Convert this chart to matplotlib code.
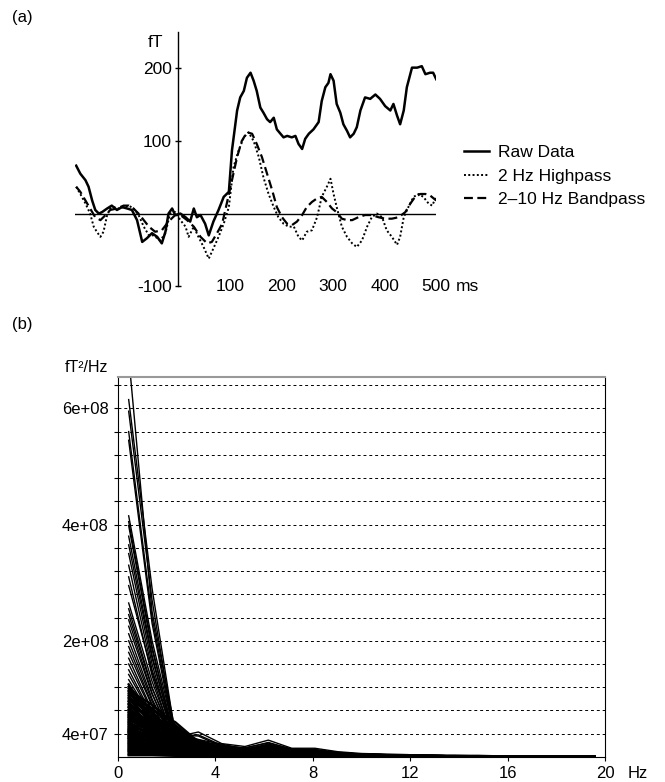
import matplotlib.pyplot as plt
import numpy as np

plt.rcParams['font.family'] = ['Liberation Sans', 'DejaVu Sans']
plt.rcParams['font.size'] = 12.5
plt.rcParams['axes.unicode_minus'] = False

# ---- panel (a): averaged field, fT over ms ----
raw_t = [-198, -190, -180, -174, -167, -161, -154, -148, -138, -129, -119, -109, -99, -90,
         -80, -70, -61, -51, -41, -32, -25, -19, -12, -6, 4, 14, 23, 30, 36, 43, 52, 59,
         68, 78, 88, 98, 104, 114, 120, 127, 133, 140, 146, 152, 159, 165, 172, 178, 185,
         191, 198, 204, 211, 220, 227, 233, 240, 246, 253, 262, 272, 278, 285, 291, 295,
         301, 307, 314, 320, 327, 333, 340, 346, 353, 362, 372, 382, 391, 401, 411, 417,
         424, 430, 437, 443, 453, 463, 472, 479, 488, 494, 500]
raw_v = [66, 55, 46, 37, 18, 5, 0, 2, 7, 11, 5, 9, 7, 5,
         -9, -39, -34, -27, -32, -41, -25, 0, 7, -2, 0, -5, -11, 7, -5, -2, -14, -30,
         -11, 5, 23, 30, 87, 142, 160, 169, 187, 194, 183, 169, 146, 139, 130, 126, 132,
         116, 110, 105, 107, 105, 107, 96, 89, 103, 110, 116, 126, 155, 174, 180, 192,
         183, 151, 139, 123, 114, 105, 110, 119, 142, 160, 158, 164, 158, 148, 142, 151,
         135, 123, 142, 174, 201, 201, 203, 192, 194, 194, 185]

hp_t = [-198, -190, -180, -171, -164, -158, -151, -145, -138, -132, -125, -116, -106, -96,
        -87, -77, -67, -57, -48, -35, -25, -16, -6, 4, 14, 20, 30, 39, 49, 59, 68, 78, 88,
        98, 107, 117, 127, 136, 146, 156, 165, 175, 185, 194, 204, 214, 224, 233, 240, 249,
        259, 269, 278, 288, 295, 301, 307, 317, 327, 337, 346, 356, 366, 375, 385, 395,
        404, 414, 424, 430, 437, 446, 456, 466, 475, 485, 492, 500]
hp_v = [37, 27, 14, 0, -18, -25, -32, -25, -2, 7, 9, 7, 9, 11,
        7, -2, -18, -30, -30, -37, -27, 0, 2, -9, -18, -32, -18, -32, -46, -62, -48, -32, -14,
        9, 64, 87, 105, 112, 100, 78, 50, 27, 9, -5, -14, -18, -18, -32, -37, -25,
        -23, -5, 23, 37, 48, 27, 9, -18, -32, -41, -46, -37, -18, -5, 0, -5,
        -23, -32, -43, -32, -5, 9, 23, 27, 23, 14, 11, 23]

bp_t = [-198, -190, -180, -171, -161, -151, -141, -132, -119, -106, -96, -87, -77, -67,
        -57, -45, -32, -19, -6, 4, 17, 30, 43, 56, 65, 75, 85, 94, 104, 114, 123, 133, 143,
        152, 162, 172, 182, 191, 201, 211, 220, 230, 240, 249, 259, 269, 278, 288, 298,
        307, 317, 327, 337, 349, 362, 375, 388, 401, 414, 427, 440, 450, 459, 469, 479,
        488, 500]
bp_v = [37, 30, 18, 7, -5, -9, -2, 5, 7, 11, 11, 7, 0, -9,
        -18, -25, -23, -11, -2, -2, -9, -18, -32, -41, -39, -27, -14, 14, 46, 78, 100, 112, 110,
        96, 78, 55, 32, 9, -5, -14, -16, -11, -2, 9, 16, 21, 23, 16, 7,
        2, -7, -9, -9, -5, -2, -2, -5, -7, -7, -5, 2, 14, 23, 27, 27,
        25, 18]

# ---- panel (b): channel spectra, units of 1e6 fT^2/Hz ----
freqs = [0.45, 1.41, 2.36, 3.31, 4.27, 5.22, 6.18, 7.14, 8.09, 9.04, 10.0,
         10.96, 11.91, 12.87, 13.82, 14.78, 15.73, 16.69, 17.64, 18.6, 19.55]
spectra = [
    [690, 250, 45, 30, 22, 14, 20, 12, 10, 6, 4, 3, 3, 2, 2, 2, 2, 2, 2, 2, 2],
    [615, 290, 38, 36, 18, 16, 24, 14, 12, 7, 5, 4, 3, 2, 2, 2, 2, 2, 2, 1, 1],
    [595, 270, 30, 28, 20, 12, 22, 10, 9, 6, 4, 3, 3, 2, 2, 2, 1, 1, 1, 1, 1],
    [560, 240, 34, 43, 23, 18, 29, 15, 15, 9, 6, 5, 4, 2, 2, 2, 2, 2, 2, 2, 2],
    [545, 230, 28, 24, 16, 12, 18, 11, 10, 6, 4, 3, 3, 2, 2, 2, 2, 1, 1, 1, 1],
    [415, 200, 36, 38, 20, 15, 25, 13, 13, 8, 5, 4, 4, 2, 2, 2, 2, 2, 2, 2, 2],
    [405, 190, 25, 22, 14, 10, 17, 9, 8, 5, 4, 3, 2, 2, 2, 1, 1, 1, 1, 1, 1],
    [398, 185, 30, 26, 17, 12, 20, 11, 10, 6, 4, 3, 3, 2, 2, 2, 2, 2, 1, 1, 1],
    [380, 175, 22, 20, 12, 9, 15, 8, 7, 5, 3, 3, 2, 2, 1, 1, 1, 1, 1, 1, 1],
    [365, 170, 28, 30, 16, 11, 21, 12, 11, 7, 5, 4, 3, 2, 2, 2, 2, 2, 2, 2, 2],
    [350, 160, 20, 18, 13, 8, 14, 9, 8, 5, 3, 3, 2, 2, 1, 1, 1, 1, 1, 1, 1],
    [330, 150, 26, 24, 15, 10, 19, 10, 9, 6, 4, 3, 3, 2, 2, 2, 1, 1, 1, 1, 1],
    [310, 140, 18, 16, 11, 7, 13, 7, 7, 4, 3, 2, 2, 2, 1, 1, 1, 1, 1, 1, 1],
    [295, 145, 32, 27, 18, 13, 22, 12, 11, 7, 5, 4, 3, 2, 2, 2, 2, 2, 2, 2, 2],
    [265, 130, 24, 21, 14, 9, 16, 9, 8, 5, 4, 3, 2, 2, 2, 1, 1, 1, 1, 1, 1],
    [255, 120, 20, 18, 12, 8, 14, 8, 7, 5, 3, 3, 2, 2, 1, 1, 1, 1, 1, 1, 1],
    [245, 118, 27, 25, 16, 11, 20, 11, 10, 6, 4, 3, 3, 2, 2, 2, 2, 2, 2, 1, 1],
    [236, 110, 17, 15, 10, 7, 12, 7, 6, 4, 3, 2, 2, 1, 1, 1, 1, 1, 1, 1, 1],
    [225, 108, 22, 20, 13, 9, 17, 9, 8, 5, 3, 3, 2, 2, 2, 1, 1, 1, 1, 1, 1],
    [212, 100, 19, 17, 11, 8, 13, 8, 7, 4, 3, 2, 2, 2, 1, 1, 1, 1, 1, 1, 1],
    [200, 96, 25, 22, 15, 10, 18, 10, 9, 6, 4, 3, 3, 2, 2, 2, 1, 1, 1, 1, 1],
    [190, 90, 16, 14, 10, 7, 11, 7, 6, 4, 3, 2, 2, 1, 1, 1, 1, 1, 1, 1, 1],
    [180, 88, 21, 19, 12, 8, 15, 8, 7, 5, 3, 3, 2, 2, 1, 1, 1, 1, 1, 1, 1],
    [170, 80, 18, 16, 11, 7, 12, 7, 6, 4, 3, 2, 2, 1, 1, 1, 1, 1, 1, 1, 1],
    [160, 78, 23, 20, 14, 9, 16, 9, 8, 5, 4, 3, 2, 2, 2, 1, 1, 1, 1, 1, 1],
    [150, 72, 15, 13, 9, 6, 10, 6, 5, 4, 2, 2, 2, 1, 1, 1, 1, 1, 1, 1, 1],
    [142, 70, 20, 18, 12, 8, 14, 8, 7, 5, 3, 2, 2, 2, 1, 1, 1, 1, 1, 1, 1],
    [133, 66, 17, 15, 10, 7, 11, 7, 6, 4, 3, 2, 2, 1, 1, 1, 1, 1, 1, 1, 1],
    [125, 64, 24, 19, 13, 9, 15, 8, 7, 5, 3, 3, 2, 2, 1, 1, 1, 1, 1, 1, 1],
    [121, 78, 36, 17, 11, 8, 13, 8, 7, 5, 3, 2, 2, 1, 1, 1, 1, 1, 1, 1, 1],
    [118, 60, 14, 12, 9, 6, 10, 6, 5, 3, 2, 2, 2, 1, 1, 1, 1, 1, 1, 1, 1],
    [115, 90, 55, 24, 14, 10, 16, 9, 8, 5, 3, 3, 2, 2, 1, 1, 1, 1, 1, 1, 1],
    [112, 62, 30, 22, 14, 10, 17, 9, 8, 5, 4, 3, 2, 2, 2, 1, 1, 1, 1, 1, 1],
    [109, 84, 46, 20, 13, 9, 14, 8, 7, 5, 3, 2, 2, 1, 1, 1, 1, 1, 1, 1, 1],
    [106, 55, 18, 15, 10, 7, 12, 7, 6, 4, 3, 2, 2, 1, 1, 1, 1, 1, 1, 1, 1],
    [103, 74, 22, 14, 10, 7, 11, 7, 6, 4, 3, 2, 2, 1, 1, 1, 1, 1, 1, 1, 1],
    [100, 58, 40, 25, 15, 11, 18, 10, 9, 6, 4, 3, 3, 2, 2, 2, 1, 1, 1, 1, 1],
    [97, 80, 60, 26, 15, 10, 17, 9, 8, 5, 4, 3, 2, 2, 1, 1, 1, 1, 1, 1, 1],
    [95, 50, 12, 10, 8, 5, 9, 5, 5, 3, 2, 2, 2, 1, 1, 1, 1, 1, 1, 1, 1],
    [92, 66, 34, 17, 11, 8, 12, 7, 6, 4, 3, 2, 2, 1, 1, 1, 1, 1, 1, 1, 1],
    [90, 52, 26, 18, 12, 8, 13, 8, 7, 4, 3, 2, 2, 2, 1, 1, 1, 1, 1, 1, 1],
    [87, 70, 50, 22, 13, 9, 14, 8, 7, 5, 3, 2, 2, 1, 1, 1, 1, 1, 1, 1, 1],
    [85, 48, 20, 15, 10, 7, 11, 7, 6, 4, 3, 2, 2, 1, 1, 1, 1, 1, 1, 1, 1],
    [82, 60, 28, 14, 9, 7, 10, 6, 5, 4, 2, 2, 2, 1, 1, 1, 1, 1, 1, 1, 1],
    [80, 47, 35, 20, 13, 9, 14, 8, 7, 5, 3, 3, 2, 2, 1, 1, 1, 1, 1, 1, 1],
    [78, 58, 44, 19, 12, 8, 12, 7, 6, 4, 3, 2, 2, 1, 1, 1, 1, 1, 1, 1, 1],
    [76, 42, 15, 12, 8, 6, 9, 6, 5, 3, 2, 2, 2, 1, 1, 1, 1, 1, 1, 1, 1],
    [74, 62, 52, 21, 12, 8, 13, 7, 6, 4, 3, 2, 2, 1, 1, 1, 1, 1, 1, 1, 1],
    [72, 45, 30, 17, 11, 8, 12, 7, 6, 4, 3, 2, 2, 1, 1, 1, 1, 1, 1, 1, 1],
    [70, 54, 38, 16, 10, 7, 11, 6, 6, 4, 3, 2, 2, 1, 1, 1, 1, 1, 1, 1, 1],
    [68, 40, 22, 14, 9, 6, 10, 6, 5, 4, 2, 2, 2, 1, 1, 1, 1, 1, 1, 1, 1],
    [66, 50, 26, 13, 9, 6, 9, 6, 5, 3, 2, 2, 2, 1, 1, 1, 1, 1, 1, 1, 1],
    [64, 44, 42, 21, 12, 9, 13, 8, 7, 5, 3, 3, 2, 2, 1, 1, 1, 1, 1, 1, 1],
    [62, 52, 46, 18, 11, 8, 12, 7, 6, 4, 3, 2, 2, 1, 1, 1, 1, 1, 1, 1, 1],
    [60, 36, 16, 11, 8, 5, 8, 5, 4, 3, 2, 2, 1, 1, 1, 1, 1, 1, 1, 1, 1],
    [58, 46, 34, 15, 10, 7, 10, 6, 5, 4, 2, 2, 2, 1, 1, 1, 1, 1, 1, 1, 1],
    [56, 38, 28, 15, 10, 7, 11, 6, 6, 4, 3, 2, 2, 1, 1, 1, 1, 1, 1, 1, 1],
    [54, 42, 20, 12, 8, 6, 9, 5, 5, 3, 2, 2, 2, 1, 1, 1, 1, 1, 1, 1, 1],
    [52, 33, 19, 12, 8, 6, 9, 5, 5, 3, 2, 2, 2, 1, 1, 1, 1, 1, 1, 1, 1],
    [50, 44, 40, 16, 10, 7, 11, 6, 5, 4, 3, 2, 2, 1, 1, 1, 1, 1, 1, 1, 1],
    [48, 36, 33, 17, 11, 8, 12, 7, 6, 4, 3, 2, 2, 1, 1, 1, 1, 1, 1, 1, 1],
    [46, 38, 24, 12, 8, 6, 9, 5, 5, 3, 2, 2, 1, 1, 1, 1, 1, 1, 1, 1, 1],
    [45, 30, 14, 10, 7, 5, 8, 5, 4, 3, 2, 2, 1, 1, 1, 1, 1, 1, 1, 1, 1],
    [43, 40, 44, 17, 10, 7, 11, 6, 5, 4, 3, 2, 2, 1, 1, 1, 1, 1, 1, 1, 1],
    [42, 34, 38, 16, 10, 7, 11, 6, 6, 4, 3, 2, 2, 1, 1, 1, 1, 1, 1, 1, 1],
    [40, 32, 18, 10, 7, 5, 8, 5, 4, 3, 2, 2, 1, 1, 1, 1, 1, 1, 1, 1, 1],
    [38, 26, 12, 9, 6, 4, 7, 4, 4, 3, 2, 1, 1, 1, 1, 1, 1, 1, 1, 1, 1],
    [36, 32, 30, 13, 8, 6, 9, 5, 5, 3, 2, 2, 1, 1, 1, 1, 1, 1, 1, 1, 1],
    [35, 28, 24, 13, 9, 6, 9, 6, 5, 3, 2, 2, 2, 1, 1, 1, 1, 1, 1, 1, 1],
    [33, 27, 16, 9, 6, 5, 7, 4, 4, 3, 2, 1, 1, 1, 1, 1, 1, 1, 1, 1, 1],
    [32, 22, 10, 8, 6, 4, 6, 4, 3, 2, 2, 1, 1, 1, 1, 1, 1, 1, 1, 1, 1],
    [30, 28, 34, 14, 8, 6, 9, 5, 5, 3, 2, 2, 1, 1, 1, 1, 1, 1, 1, 1, 1],
    [28, 24, 20, 11, 8, 5, 8, 5, 4, 3, 2, 2, 1, 1, 1, 1, 1, 1, 1, 1, 1],
    [26, 22, 26, 12, 7, 5, 8, 5, 4, 3, 2, 1, 1, 1, 1, 1, 1, 1, 1, 1, 1],
    [24, 18, 9, 7, 5, 4, 6, 4, 3, 2, 2, 1, 1, 1, 1, 1, 1, 1, 1, 1, 1],
    [22, 20, 18, 9, 6, 4, 7, 4, 4, 3, 2, 1, 1, 1, 1, 1, 1, 1, 1, 1, 1],
    [20, 16, 14, 9, 6, 4, 7, 4, 4, 3, 2, 1, 1, 1, 1, 1, 1, 1, 1, 1, 1],
    [18, 15, 11, 7, 5, 4, 6, 3, 3, 2, 1, 1, 1, 1, 1, 1, 1, 1, 1, 1, 1],
    [16, 12, 7, 6, 4, 3, 5, 3, 3, 2, 1, 1, 1, 1, 1, 1, 1, 1, 1, 1, 1],
    [14, 12, 12, 7, 5, 3, 5, 3, 3, 2, 1, 1, 1, 1, 1, 1, 1, 1, 1, 1, 1],
    [12, 10, 8, 6, 4, 3, 5, 3, 3, 2, 1, 1, 1, 1, 1, 1, 1, 1, 1, 1, 1],
    [10, 8, 6, 5, 3, 3, 4, 3, 2, 2, 1, 1, 1, 1, 1, 1, 1, 1, 1, 1, 1],
    [8, 6, 5, 4, 3, 2, 4, 2, 2, 2, 1, 1, 1, 1, 1, 1, 1, 1, 1, 1, 1],
    [5, 4, 3, 3, 2, 2, 3, 2, 2, 1, 1, 1, 1, 1, 1, 1, 1, 1, 1, 1, 1],
    [3, 3, 2, 2, 2, 1, 2, 1, 1, 1, 1, 1, 1, 1, 1, 1, 1, 1, 1, 1, 1],
]
psd_ticks = [4e7, 2e8, 4e8, 6e8]
psd_labels = ['4e+07', '2e+08', '4e+08', '6e+08']
hz_ticks = [0, 4, 8, 12, 16, 20]
ms_ticks = [100, 200, 300, 400, 500]

fig = plt.figure(figsize=(6.65, 7.82), dpi=100)

# (a)
ax = fig.add_axes([0.113, 0.634, 0.543, 0.325])
ax.plot(raw_t, raw_v, color='k', lw=1.8, label='Raw Data')
ax.plot(hp_t, hp_v, color='k', lw=1.4, ls=(0, (1, 1.2)), label='2 Hz Highpass')
ax.plot(bp_t, bp_v, color='k', lw=1.6, ls=(0, (4, 2)), label='2\u201310 Hz Bandpass')
ax.set_xlim(-200, 500)
ax.set_ylim(-100, 250)
ax.axhline(0, color='k', lw=1.0)
for s in ['top', 'right', 'bottom']:
    ax.spines[s].set_visible(False)
ax.spines['left'].set_position(('data', 0))
ax.spines['left'].set_linewidth(1.0)
ax.set_xticks([])
ax.set_yticks([-100, 100, 200])
ax.tick_params(axis='y', direction='inout', length=5, width=1, pad=2)
for t in ms_ticks:
    ax.text(t, -100, str(t), ha='center', va='center')
ax.text(538, -100, 'ms', ha='left', va='center', clip_on=False)
ax.text(-29, 236, 'fT', ha='right', va='center')
ax.legend(loc='upper left', bbox_to_anchor=(0.697, 0.815), bbox_transform=fig.transFigure,
          frameon=False, handlelength=1.45, handletextpad=0.55, labelspacing=0.5,
          borderpad=0, borderaxespad=0)
fig.text(0.018, 0.977, '(a)', ha='left', va='center', fontsize=12)

# (b)
bx = fig.add_axes([0.177, 0.032, 0.733, 0.486])
for row in spectra:
    # the low channels pile up into a near-solid black mass in the original
    width = 1.0 if row[0] > 130 else 1.7
    bx.plot(freqs, np.array(row) * 1e6, color='k', lw=width)
bx.set_xlim(0, 20)
bx.set_ylim(0, 6.54e8)
bx.set_yticks(np.arange(4e7, 6.5e8, 4e7), minor=True)
bx.set_yticks(psd_ticks, psd_labels)
bx.set_xticks(hz_ticks)
bx.tick_params(labelsize=12)
bx.grid(which='both', axis='y', color='k', lw=0.7, ls=(0, (3, 3)))
bx.tick_params(axis='y', which='both', direction='out', length=3, width=0.8)
bx.tick_params(axis='x', direction='out', length=3, width=0.8)
bx.spines['top'].set_color('0.6')
bx.spines['top'].set_linewidth(1.5)
bx.annotate('Hz', xy=(1.0, 0), xycoords='axes fraction', xytext=(16, -6.5),
            textcoords='offset points', ha='left', va='top', fontsize=12)
bx.text(-0.108, 1.025, 'fT\u00b2/Hz', transform=bx.transAxes, ha='left', va='center',
        fontsize=11.5)
fig.text(0.018, 0.585, '(b)', ha='left', va='center', fontsize=12)

fig.savefig('out.png', dpi=100)
